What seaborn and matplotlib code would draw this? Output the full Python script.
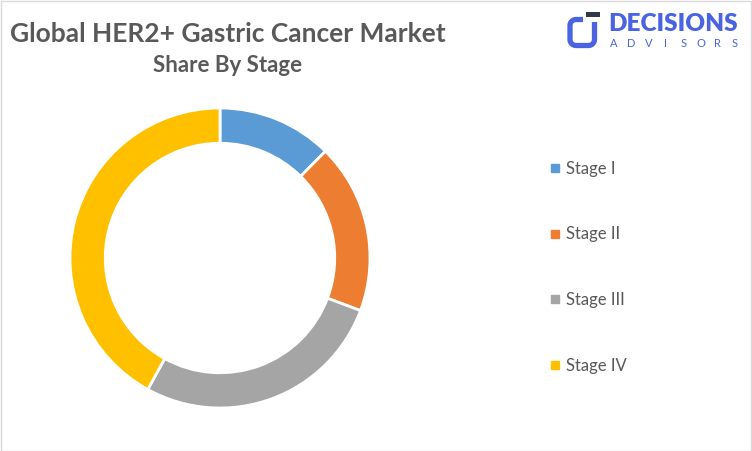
#%% Donut chart - HER2+ gastric cancer market share by stage

import numpy as np
import matplotlib
matplotlib.use("Agg")
import matplotlib.pyplot as plt
import seaborn as sns
from matplotlib.lines import Line2D
from matplotlib.patches import Rectangle

sns.set_theme(style="white")
plt.rcParams['font.family'] = ['Lato', 'DejaVu Sans']

# data
stages = ['Stage I', 'Stage II', 'Stage III', 'Stage IV']
share = [12.4, 18.3, 27.3, 42.0]
colors = ['#5B9BD5', '#ED7D31', '#A5A5A5', '#FFC000']

fig = plt.figure(figsize=(7.52, 4.51), dpi=100)
W, H = 752, 451

# donut
ax = fig.add_axes([70 / W, 43 / H, 300 / W, 300 / H])
wedges, _ = ax.pie(share, colors=colors, startangle=90, counterclock=False,
                   radius=1, wedgeprops=dict(width=0.235, edgecolor='white', linewidth=2))
ax.set_xlim(-1, 1)
ax.set_ylim(-1, 1)
ax.set_aspect('equal')
ax.axis('off')

# titles
fig.text(228 / W, 1 - 34 / H, 'Global HER2+ Gastric Cancer Market', ha='center', va='center',
         fontsize=19, fontweight='bold', color='#595959')
fig.text(228 / W, 1 - 66 / H, 'Share By Stage', ha='center', va='center',
         fontsize=16, fontweight='bold', color='#595959')

# legend
handles = [Line2D([0], [0], marker='s', linestyle='', markersize=6,
                  markerfacecolor=c, markeredgecolor=c) for c in colors]
fig.legend(handles, stages, loc='upper left', bbox_to_anchor=(533 / W, 1 - 146 / H),
           frameon=False, fontsize=12, labelcolor='#595959', handlelength=0.8,
           handletextpad=0.25, labelspacing=2.97)

# logo
blue = '#4A63E0'
lx = fig.add_axes([0, 0, 1, 1], zorder=-1)
lx.set_xlim(0, W)
lx.set_ylim(H, 0)
lx.axis('off')


def arc(cx, cy, r, a0, a1):
    t = np.radians(np.linspace(a0, a1, 12))
    return list(cx + r * np.cos(t)), list(cy + r * np.sin(t))


r = 6
xs, ys = [583], [19.5]
ax1, ay1 = arc(570 + r, 19.5 + r, r, 270, 180)
ax2, ay2 = arc(570 + r, 45.5 - r, r, 180, 90)
ax3, ay3 = arc(594.5 - r, 45.5 - r, r, 90, 0)
xs += ax1 + ax2 + ax3 + [594.5]
ys += ay1 + ay2 + ay3 + [22]
lx.plot(xs, ys, color=blue, linewidth=3.8, solid_capstyle='butt', solid_joinstyle='round')
lx.add_patch(Rectangle((586, 12), 13.5, 4.5, facecolor='#33384a', edgecolor='none'))
lx.text(608, 24, 'DECISIONS', fontsize=17.5, fontweight='heavy', color=blue, va='center', ha='left')
for i, ch in enumerate('ADVISORS'):
    lx.text(614 + i * 17.3, 43.5, ch, fontsize=8, color=blue, va='center', ha='center')

# border
fig.patches.append(Rectangle((0.5 / W, 0.5 / H), 1 - 1.5 / W, 1 - 1.5 / H, transform=fig.transFigure,
                             facecolor='none', edgecolor='#D9D9D9', linewidth=1))

fig.savefig('out.png', dpi=100)
